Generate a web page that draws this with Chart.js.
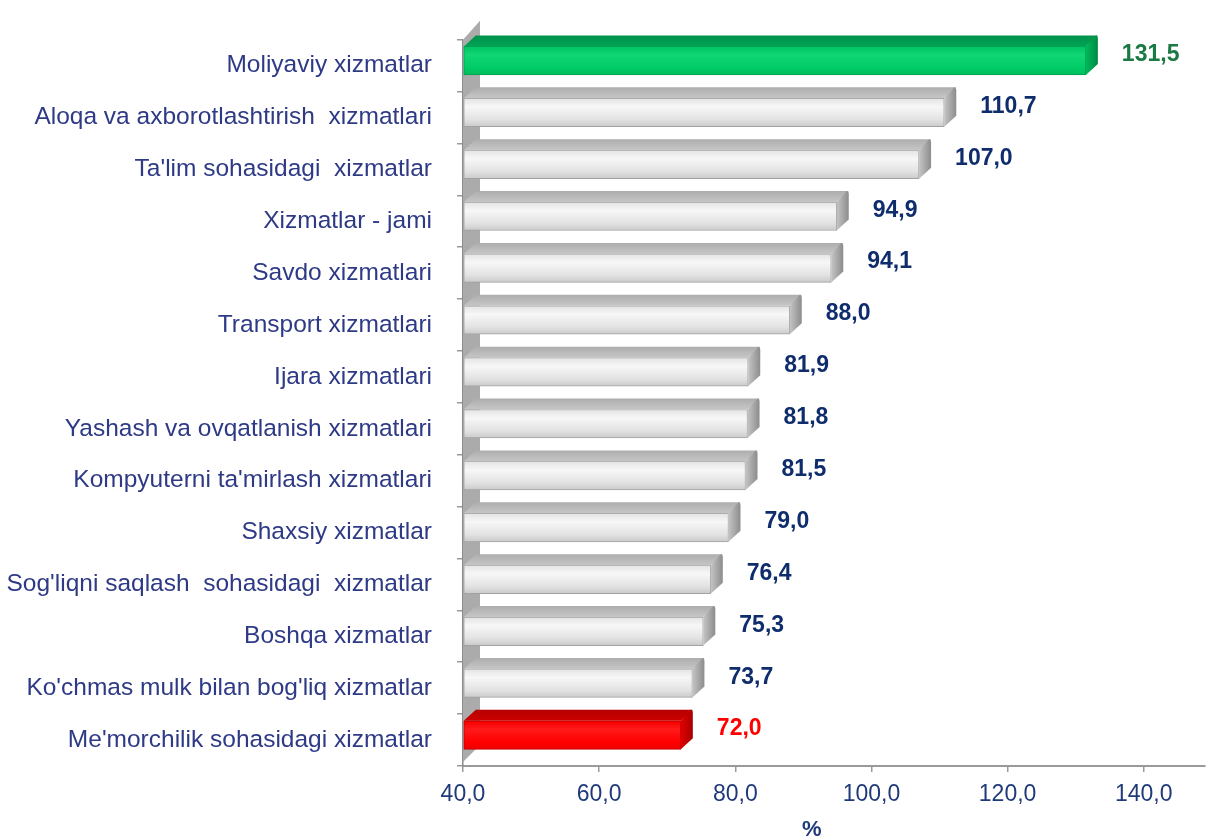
<!DOCTYPE html>
<html>
<head>
<meta charset="utf-8">
<script src="https://cdn.jsdelivr.net/npm/chart.js@4.4.1/dist/chart.umd.min.js"></script>
<style>
  html, body { margin: 0; padding: 0; background: #fff; }
  #wrap { width: 1207px; height: 837px; }
</style>
</head>
<body>
<div id="wrap"><canvas id="chart"></canvas></div>
<script>
const categories = [
  "Moliyaviy xizmatlar",
  "Aloqa va axborotlashtirish  xizmatlari",
  "Ta'lim sohasidagi  xizmatlar",
  "Xizmatlar - jami",
  "Savdo xizmatlari",
  "Transport xizmatlari",
  "Ijara xizmatlari",
  "Yashash va ovqatlanish xizmatlari",
  "Kompyuterni ta'mirlash xizmatlari",
  "Shaxsiy xizmatlar",
  "Sog'liqni saqlash  sohasidagi  xizmatlar",
  "Boshqa xizmatlar",
  "Ko'chmas mulk bilan bog'liq xizmatlar",
  "Me'morchilik sohasidagi xizmatlar"
];
const values = [131.5, 110.7, 107.0, 94.9, 94.1, 88.0, 81.9, 81.8, 81.5, 79.0, 76.4, 75.3, 73.7, 72.0];
const xTicks = [40, 60, 80, 100, 120, 140];

const FONT = '"Liberation Sans", Arial, sans-serif';
const DX = 12, DY = 11, SHIFT = -5;   // 3d depth and front face shift
const maxV = Math.max(...values), minV = Math.min(...values);

function palette(v) {
  if (v === maxV) return { front: ['#00c463', '#10d674', '#00cc66', '#00bd5e'], edge: '#00a04e', top: ['#00914a', '#00a455'], side: ['#00b85c', '#008a45'], label: '#1b7a44' };
  if (v === minV) return { front: ['#f50000', '#ff1a1a', '#ff0000', '#f00000'], edge: '#c00000', top: ['#b80000', '#cc0000'], side: ['#e00000', '#a80000'], label: '#ff0000' };
  return { front: ['#e4e4e4', '#f7f7f7', '#e2e2e2', '#cbcbcb'], edge: '#a2a2a2', top: ['#adadad', '#c6c6c6'], side: ['#c4c4c4', '#8c8c8c'], label: '#0f2c6c' };
}
const fmt = v => v.toFixed(1).replace('.', ',');

const chart3d = {
  id: 'chart3d',
  beforeDatasetsDraw(chart) {
    const ctx = chart.ctx, a = chart.chartArea;
    // side wall
    ctx.save();
    ctx.fillStyle = '#ababab';
    ctx.beginPath();
    ctx.moveTo(a.left, a.top);
    ctx.lineTo(a.left + 17, a.top - 19);
    ctx.lineTo(a.left + 17, a.bottom - 21);
    ctx.lineTo(a.left, a.bottom - 4);
    ctx.closePath();
    ctx.fill();
    ctx.restore();
    ctx.save();
    ctx.translate(0, SHIFT);
  },
  afterDatasetsDraw(chart) {
    const ctx = chart.ctx;
    const meta = chart.getDatasetMeta(0);
    meta.data.forEach((el, i) => {
      const p = palette(values[i]);
      const t = el.y - el.height / 2, b = el.y + el.height / 2;
      const x0 = el.base, x1 = el.x;
      // top face
      const gt = ctx.createLinearGradient(0, t - DY, 0, t);
      gt.addColorStop(0, p.top[0]);
      gt.addColorStop(1, p.top[1]);
      ctx.fillStyle = gt;
      ctx.beginPath();
      ctx.moveTo(x0, t);
      ctx.lineTo(x0 + DX, t - DY);
      ctx.lineTo(x1 + DX, t - DY);
      ctx.lineTo(x1, t);
      ctx.closePath();
      ctx.fill();
      // side face
      const gs = ctx.createLinearGradient(x1, 0, x1 + DX, 0);
      gs.addColorStop(0, p.side[0]);
      gs.addColorStop(1, p.side[1]);
      ctx.fillStyle = gs;
      ctx.beginPath();
      ctx.moveTo(x1, t);
      ctx.lineTo(x1 + DX - 2, t - DY);
      ctx.quadraticCurveTo(x1 + DX, t - DY, x1 + DX, t - DY + 3);
      ctx.lineTo(x1 + DX, b - DY);
      ctx.lineTo(x1, b);
      ctx.closePath();
      ctx.fill();
      // value label
      ctx.fillStyle = p.label;
      ctx.font = 'bold 23px ' + FONT;
      ctx.textAlign = 'left';
      ctx.textBaseline = 'middle';
      ctx.fillText(fmt(values[i]), x1 + 36, el.y - 6);
    });
    ctx.restore();
  },
  afterDraw(chart) {
    const ctx = chart.ctx, a = chart.chartArea;
    ctx.save();
    ctx.fillStyle = '#1f3a7a';
    ctx.font = 'bold 22px ' + FONT;
    ctx.textAlign = 'center';
    ctx.textBaseline = 'middle';
    ctx.fillText('%', a.left + (a.right - a.left) * 0.47, a.bottom + 64);
    ctx.restore();
  }
};

new Chart(document.getElementById('chart'), {
  type: 'bar',
  data: {
    labels: categories,
    datasets: [{
      data: values,
      base: 40,
      clip: false,
      barThickness: 28.5,
      borderWidth: 1,
      borderSkipped: false,
      borderColor: c => palette(values[c.dataIndex]).edge,
      backgroundColor: c => {
        const p = palette(values[c.dataIndex]);
        const ys = c.chart.scales.y;
        if (!ys || !c.chart.chartArea) return p.front[2];
        const yc = ys.getPixelForValue(c.dataIndex);
        const g = c.chart.ctx.createLinearGradient(0, yc - 14, 0, yc + 14);
        g.addColorStop(0, p.front[0]);
        g.addColorStop(0.3, p.front[1]);
        g.addColorStop(0.75, p.front[2]);
        g.addColorStop(1, p.front[3]);
        return g;
      }
    }]
  },
  options: {
    indexAxis: 'y',
    responsive: true,
    maintainAspectRatio: false,
    animation: false,
    layout: { padding: { top: 32, right: 2, left: 0, bottom: 0 } },
    plugins: { legend: { display: false }, tooltip: { enabled: false } },
    scales: {
      x: {
        min: 40,
        max: 149,
        afterFit: s => { s.height = 71; },
        afterBuildTicks: s => { s.ticks = xTicks.map(v => ({ value: v })); },
        grid: { drawOnChartArea: false, tickLength: 6, color: '#9a9a9a', lineWidth: 1.5 },
        border: { color: '#9a9a9a', width: 2 },
        ticks: {
          padding: 9,
          color: '#1f3a7a',
          font: { family: FONT, size: 23 },
          callback: v => fmt(v)
        }
      },
      y: {
        afterFit: s => { s.width = 463; },
        grid: { offset: true, drawOnChartArea: false, tickLength: 6, color: '#9a9a9a', lineWidth: 1.5 },
        border: { color: '#8c8c8c', width: 1.5 },
        ticks: {
          padding: 25,
          color: '#2e3a86',
          font: { family: FONT, size: 24.5 }
        }
      }
    }
  },
  plugins: [chart3d]
});
</script>
</body>
</html>
